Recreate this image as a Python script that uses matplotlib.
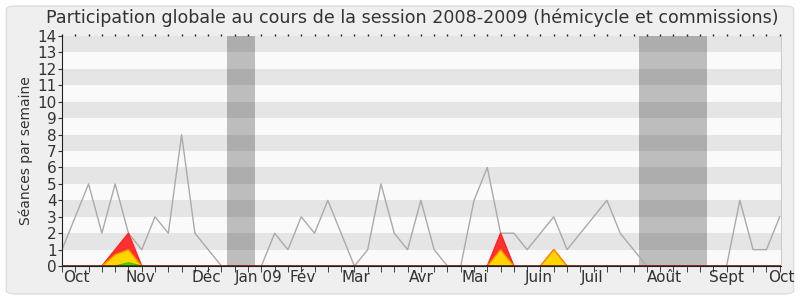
import numpy as np
import matplotlib
matplotlib.use("Agg")
import matplotlib.pyplot as plt
from matplotlib.patches import FancyBboxPatch

nan = np.nan

# seances par semaine (une valeur par semaine, sept. 2008 -> oct. 2009)
total = [1, 3, 5, 2, 5, 2, 1, 3, 2, 8, 2, 1, 0, nan, nan,
         0, 2, 1, 3, 2, 4, 2, 0, 1, 5, 2, 1, 4, 1, 0,
         0, 4, 6, 2, 2, 1, 2, 3, 1, 2, 3, 4, 2, 1, 0,
         nan, nan, nan, nan, nan, 0, 4, 1, 1, 3]
red = [0] * 55
red[4], red[5] = 1, 2
red[33] = 2
red[37] = 1
yellow = [0] * 55
yellow[4], yellow[5] = 0.7, 1
yellow[33] = 1
yellow[37] = 1
green = [0] * 55
green[5] = 0.2
green[33] = 0.03

month_labels = ["Oct", "Nov", "Déc", "Jan 09", "Fév", "Mar", "Avr",
                "Mai", "Juin", "Juil", "Août", "Sept", "Oct"]
month_pos = [1.1, 5.86, 10.9, 14.8, 18.1, 22.1, 27.05,
             31.1, 35.9, 39.9, 45.3, 49.96, 54.1]
vacances = [(12.4, 14.5), (43.4, 48.5)]

weeks = np.arange(len(total))


def only_peaks(vals):
    # garde les zeros voisins d'une valeur non nulle, le reste en NaN
    v = np.array(vals, dtype=float)
    keep = v > 0
    keep[1:] |= v[:-1] > 0
    keep[:-1] |= v[1:] > 0
    return np.where(keep, v, nan)


fig = plt.figure(figsize=(8, 3), dpi=100)
fig.patch.set_facecolor("white")
fig.patches.append(FancyBboxPatch((0.008, 0.02), 0.984, 0.96, boxstyle="round,pad=0,rounding_size=0.012",
                                  transform=fig.transFigure, facecolor="#efefef", edgecolor="#dddddd",
                                  linewidth=1, zorder=-10))
ax = fig.add_axes([0.0775, 0.113, 0.8988, 0.767])
ax.set_facecolor("#fafafa")

# bandes horizontales
for k in range(1, 14, 2):
    ax.axhspan(k, k + 1, color="#e5e5e5", lw=0, zorder=0)

for a, b in vacances:
    ax.axvspan(a, b, color="k", alpha=0.245, lw=0, zorder=1)

ax.plot(weeks, total, color="#aaaaaa", lw=1, zorder=2)
ax.fill_between(weeks, 0, only_peaks(red), facecolor="#ff3030", edgecolor="#ff2020", lw=1, zorder=3)
ax.fill_between(weeks, 0, only_peaks(yellow), facecolor="#ffd600", edgecolor="#ff8c00", lw=1, zorder=4)
ax.fill_between(weeks, 0, only_peaks(green), facecolor="#33dd00", edgecolor="#33cc00", lw=1, zorder=5)
ax.axhline(0, color="#6b1a00", lw=1.2, zorder=6)

ax.set_xlim(0, 54)
ax.set_ylim(0, 14)
ax.set_yticks(range(15))
ax.set_xticks(month_pos)
ax.set_xticklabels(month_labels)
ax.set_xticks(weeks, minor=True)
ax.tick_params(axis="x", which="major", length=0, labelsize=11, colors="#333333", pad=3)
ax.tick_params(axis="x", which="minor", length=4, direction="out", color="#222222")
ax.tick_params(axis="y", length=3, labelsize=11, colors="#333333", pad=1)

# petits points en haut
top = ax.secondary_xaxis("top")
top.set_xticks(weeks)
top.set_xticklabels([])
top.tick_params(length=1.5, width=1, color="#222222")
top.spines["top"].set_visible(False)

ax.set_ylabel("Séances par semaine", fontsize=10, color="#333333", labelpad=3)
fig.text(0.515, 0.94, "Participation globale au cours de la session 2008-2009 (hémicycle et commissions)",
         fontsize=12.6, color="#333333", ha="center", va="center")

ax.spines["top"].set_visible(False)
ax.spines["right"].set_color("#cccccc")
ax.spines["left"].set_color("#222222")
ax.spines["bottom"].set_color("#222222")

fig.savefig("out.png", dpi=100)
